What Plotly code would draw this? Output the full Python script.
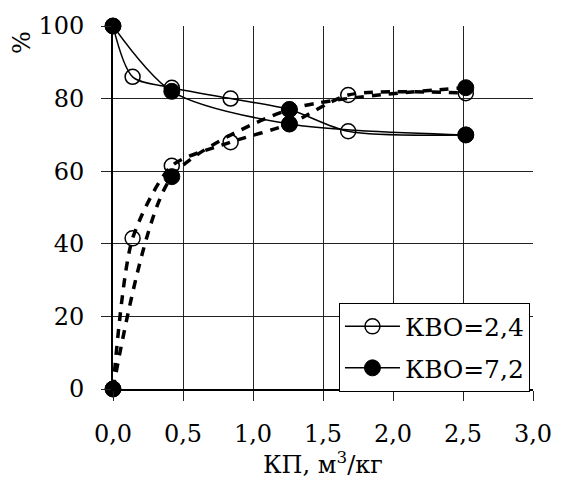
import plotly.graph_objects as go

# Flow rate, m3/kg
x_kvo24 = [0, 0.14, 0.42, 0.84, 1.26, 1.68, 2.52]
x_kvo72 = [0, 0.42, 1.26, 2.52]

# KVO = 2.4: solid and dashed curves, %
kvo24_solid = [100, 86, 83, 80, 77, 71, 70]
kvo24_dashed = [0, 41.5, 61.5, 68, 73, 81, 81.5]

# KVO = 7.2: solid and dashed curves, %
kvo72_solid = [100, 82, 73, 70]
kvo72_dashed = [0, 58.5, 77, 83]

x_ticks = [0, 0.5, 1.0, 1.5, 2.0, 2.5, 3.0]
y_ticks = [0, 20, 40, 60, 80, 100]

FONT = "DejaVu Serif"
TXT = dict(family=FONT, size=24, color="black")

open_marker = dict(symbol="circle-open", size=15, color="black", line=dict(width=1.5, color="black"))
filled_marker = dict(symbol="circle", size=16, color="black", line=dict(width=1, color="black"))

fig = go.Figure()

fig.add_trace(go.Scatter(
    x=x_kvo24, y=kvo24_dashed, mode="lines+markers", showlegend=False,
    line=dict(color="black", width=3.5, dash="9px,8px", shape="spline", smoothing=0.7),
    marker=open_marker, cliponaxis=False))
fig.add_trace(go.Scatter(
    x=x_kvo24, y=kvo24_solid, mode="lines+markers", name="КВО=2,4", legendgroup="a",
    line=dict(color="black", width=1.5, shape="spline", smoothing=0.8),
    marker=open_marker, cliponaxis=False))
fig.add_trace(go.Scatter(
    x=x_kvo72, y=kvo72_dashed, mode="lines+markers", showlegend=False,
    line=dict(color="black", width=3.5, dash="9px,8px", shape="spline", smoothing=0.7),
    marker=filled_marker, cliponaxis=False))
fig.add_trace(go.Scatter(
    x=x_kvo72, y=kvo72_solid, mode="lines+markers", name="КВО=7,2", legendgroup="b",
    line=dict(color="black", width=1.5, shape="spline", smoothing=0.8),
    marker=filled_marker, cliponaxis=False))

fig.update_layout(
    width=564, height=481,
    margin=dict(l=113, r=22, t=23, b=92),
    paper_bgcolor="white", plot_bgcolor="white",
    separators=", ",
    font=TXT,
    legend=dict(
        x=0.538, y=0.238, xanchor="left", yanchor="top",
        bgcolor="white", bordercolor="black", borderwidth=1,
        font=dict(family=FONT, size=25, color="black"),
        itemwidth=55, tracegroupgap=6,
    ),
    annotations=[
        dict(text="КП, м<sup>3</sup>/кг", xref="paper", yref="paper",
             x=0.5, y=-0.254, xanchor="center", yanchor="bottom", showarrow=False,
             font=TXT),
        dict(text="%", xref="paper", yref="paper", textangle=-90,
             x=-0.215, y=0.955, xanchor="center", yanchor="middle", showarrow=False,
             font=TXT),
    ],
)

fig.update_xaxes(
    range=[0, 3], tickvals=x_ticks, tickformat=".1f", tickfont=TXT,
    showgrid=True, gridcolor="#222", gridwidth=1,
    showline=True, linecolor="black", linewidth=2,
    ticks="outside", ticklen=10, tickcolor="#222", tickwidth=1,
    ticklabelstandoff=12, zeroline=False,
)
fig.update_yaxes(
    range=[0, 100], tickvals=y_ticks, tickfont=TXT,
    showgrid=True, gridcolor="#222", gridwidth=1,
    showline=True, linecolor="black", linewidth=2,
    ticks="outside", ticklen=10, tickcolor="#222", tickwidth=1,
    ticklabelstandoff=12, zeroline=False,
)

fig.write_html("out.html")
